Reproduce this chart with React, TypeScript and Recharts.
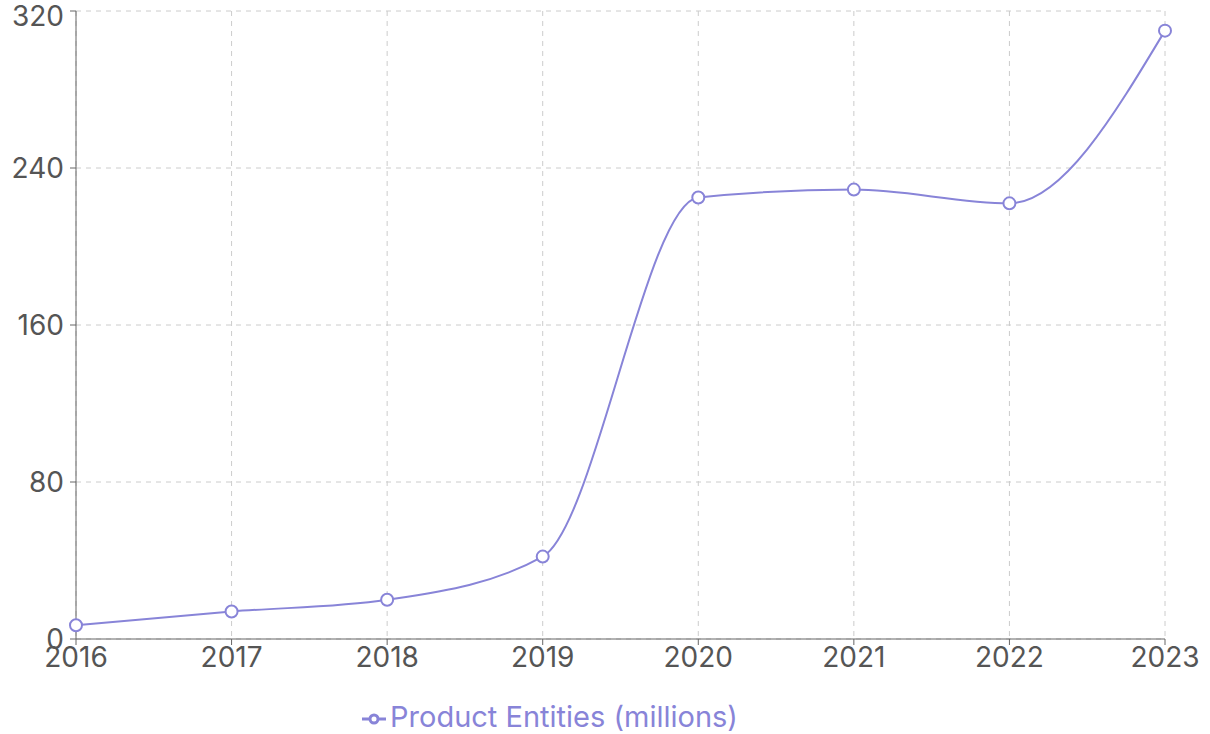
import { LineChart, Line, XAxis, YAxis, CartesianGrid, Legend } from "recharts";

const years = ["2016", "2017", "2018", "2019", "2020", "2021", "2022", "2023"];
const entities = [7, 14, 20, 42, 225, 229, 222, 310];
const yTicks = [0, 80, 160, 240, 320];

const data = years.map((year, i) => ({ year, entities: entities[i] }));

const FONT = "Inter, 'Noto Sans', sans-serif";

export default function App() {
  return (
    <div style={{ position: "absolute", left: 0, top: 0, background: "#fff", fontFamily: FONT }}>
      <LineChart
        width={1210}
        height={734}
        data={data}
        margin={{ top: 11, right: 45, left: 4, bottom: 0 }}
      >
        <CartesianGrid strokeDasharray="5 5" stroke="#ccc" />
        <XAxis
          dataKey="year"
          stroke="#666"
          tick={{ fontSize: 28, fill: "#555" }}
          tickMargin={2}
          height={60}
        />
        <YAxis
          stroke="#666"
          ticks={yTicks}
          domain={[0, 320]}
          tick={{ fontSize: 28, fill: "#555" }}
          tickMargin={6}
          width={72}
        />
        <Legend
          verticalAlign="bottom"
          iconSize={24}
          wrapperStyle={{ fontSize: 29, left: 0, width: 1110 }}
        />
        <Line
          type="monotone"
          dataKey="entities"
          name="Product Entities (millions)"
          stroke="#8884d8"
          strokeWidth={2}
          dot={{ r: 6, fill: "#fff", strokeWidth: 2 }}
          isAnimationActive={false}
        />
      </LineChart>
    </div>
  );
}
